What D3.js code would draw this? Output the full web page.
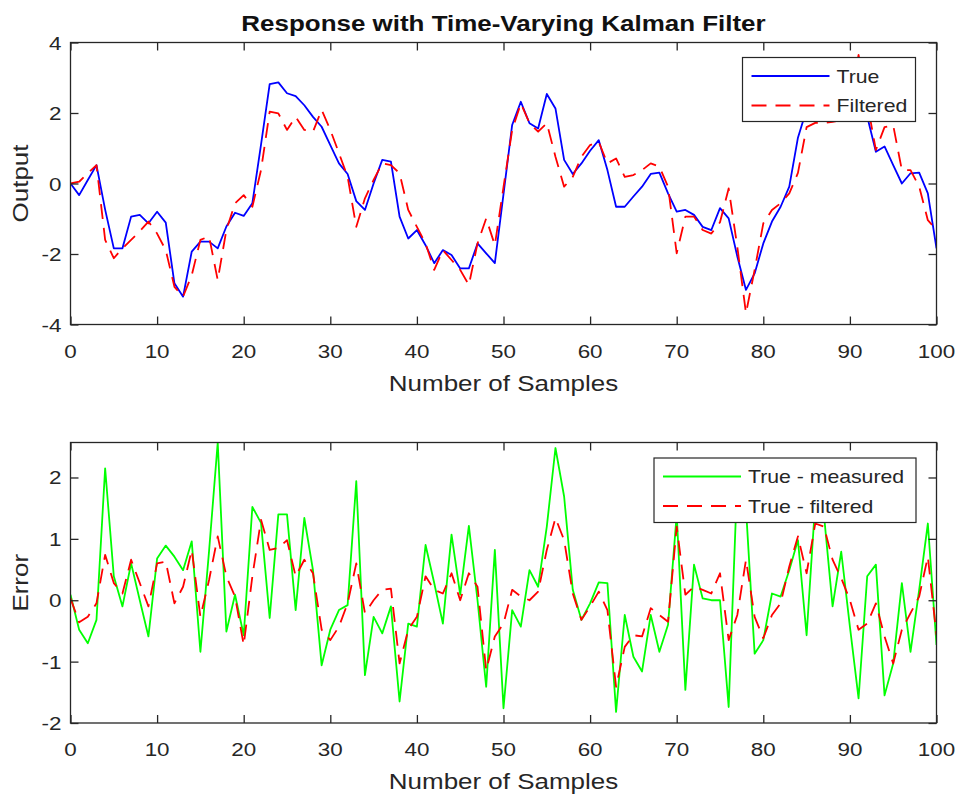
<!DOCTYPE html>
<html>
<head>
<meta charset="utf-8">
<script src="https://cdn.jsdelivr.net/npm/d3@7"></script>
<style>
  html, body { margin: 0; padding: 0; background: #fff; }
  svg { display: block; }
</style>
</head>
<body>
<div id="chart"></div>
<script>
// ---------------- data ----------------
const samples = d3.range(0, 101);

const trueOutput = [
  0.0, -0.33, 0.1, 0.52, -0.74, -1.84, -1.84, -0.94, -0.89, -1.13,
  -0.8, -1.11, -2.83, -3.21, -1.93, -1.65, -1.65, -1.84, -1.22, -0.83,
  -0.92, -0.56, 1.1, 2.82, 2.87, 2.56, 2.48, 2.22, 1.89, 1.61,
  1.09, 0.57, 0.27, -0.5, -0.75, 0.0, 0.67, 0.62, -0.94, -1.56,
  -1.32, -1.75, -2.26, -1.89, -2.03, -2.41, -2.41, -1.7, -1.98, -2.26,
  -0.3, 1.66, 2.32, 1.71, 1.56, 2.54, 2.13, 0.67, 0.27, 0.57,
  0.93, 1.23, 0.38, -0.66, -0.66, -0.37, -0.09, 0.27, 0.31, -0.28,
  -0.8, -0.75, -0.89, -1.23, -1.32, -0.7, -0.99, -2.07, -3.02, -2.55,
  -1.7, -1.08, -0.66, -0.09, 1.3, 2.1, 2.97, 2.92, 2.41, 2.16,
  2.2, 3.17, 1.9, 0.9, 1.05, 0.52, 0.0, 0.29, 0.31, -0.28,
  -1.84
];

const filteredOutput = [
  0.0, 0.05, 0.29, 0.52, -1.6, -2.12, -1.84, -1.6, -1.35, -1.08,
  -1.42, -1.89, -2.93, -3.21, -2.6, -1.6, -1.5, -2.74, -1.32, -0.56,
  -0.33, -0.66, 0.38, 2.04, 1.99, 1.52, 1.89, 1.52, 1.47, 2.09,
  1.52, 0.86, 0.19, -1.23, -0.42, 0.1, 0.57, 0.52, 0.29, -0.75,
  -1.23, -1.7, -2.45, -1.89, -2.17, -2.45, -2.88, -1.7, -0.99, -1.75,
  -0.1, 1.52, 2.27, 1.71, 1.47, 1.71, 0.76, -0.09, 0.19, 0.76,
  1.09, 1.18, 0.57, 0.71, 0.19, 0.24, 0.38, 0.57, 0.48, -0.09,
  -1.98, -0.94, -0.94, -1.32, -1.42, -1.1, -0.14, -1.8, -3.68, -2.45,
  -1.13, -0.75, -0.56, -0.28, 0.3, 1.6, 1.72, 1.72, 1.75, 1.8,
  2.2, 3.65, 2.3, 0.95, 1.6, 1.65, 0.38, 0.38, -0.09, -1.04,
  -1.32
];

const errMeasured = [
  0.09, -0.48, -0.70, -0.32, 2.15, 0.39, -0.10, 0.6, 0.0, -0.59,
  0.68, 0.89, 0.71, 0.49, 0.96, -0.84, 0.8, 2.57, -0.51, 0.09,
  -0.57, 1.52, 1.26, -0.29, 1.40, 1.40, -0.16, 1.34, 0.49, -1.06,
  -0.48, -0.16, -0.08, 1.94, -1.22, -0.27, -0.54, -0.10, -1.65, -0.38,
  -0.43, 0.9, 0.28, -0.38, 1.07, 0.09, 1.21, 0.0, -1.41, 0.82,
  -1.76, -0.16, -0.43, 0.49, 0.22, 1.2, 2.48, 1.69, 0.17, -0.32,
  -0.05, 0.29, 0.28, -1.82, -0.24, -0.92, -1.16, -0.24, -0.84, -0.40,
  1.4, -1.46, 0.58, 0.03, 0.0, 0.0, -1.74, 2.0, 1.5, -0.87,
  -0.65, 0.11, 0.06, 0.49, 0.98, -0.57, 1.6, 1.4, -0.10, 0.79,
  -0.43, -1.60, 0.39, 0.58, -1.55, -1.03, 0.28, -0.84, 0.17, 1.25,
  -0.73
];

const errFiltered = [
  0.03, -0.36, -0.27, -0.05, 0.74, 0.28, 0.11, 0.66, 0.28, -0.10,
  0.6, 0.63, -0.05, 0.22, 0.82, -0.27, 0.33, 1.04, 0.39, 0.06,
  -0.73, 0.39, 1.31, 0.82, 0.85, 0.98, 0.39, 0.66, 0.44, -0.48,
  -0.65, -0.43, -0.05, 0.6, -0.21, 0.0, 0.17, 0.19, -1.03, -0.48,
  -0.27, 0.39, 0.17, 0.11, 0.44, 0.0, 0.44, 0.22, -1.14, -0.59,
  -0.38, 0.17, 0.06, 0.0, 0.14, 0.82, 1.34, 0.98, 0.11, -0.32,
  -0.10, 0.14, -0.16, -1.41, -0.76, -0.57, -0.59, -0.13, -0.24, -0.35,
  1.2, 0.09, 0.22, 0.17, 0.11, 0.44, -0.65, -0.24, 0.66, -0.27,
  -0.62, -0.24, -0.05, 0.55, 1.04, 0.44, 1.25, 1.2, 0.66, 0.36,
  0.0, -0.48, -0.38, -0.05, -0.59, -1.03, -0.48, -0.21, 0.06, 0.71,
  -0.57
];

const xTicks = [0, 10, 20, 30, 40, 50, 60, 70, 80, 90, 100];
const yTicksTop = [-4, -2, 0, 2, 4];
const yTicksBottom = [-2, -1, 0, 1, 2];

const titleText = "Response with Time-Varying Kalman Filter";
const xLabelText = "Number of Samples";
const yLabelTop = "Output";
const yLabelBottom = "Error";
const legendTop = ["True", "Filtered"];
const legendBottom = ["True - measured", "True - filtered"];

// ---------------- layout ----------------
const W = 960, H = 797;
const SX = 1.18;            // glyph widening to match reference rendering
const FONT = "'Liberation Sans', Arial, Helvetica, sans-serif";
const AX = "#262626";

const svg = d3.select("#chart").append("svg")
  .attr("width", W).attr("height", H);

const left = 70.5, right = 936.5;
const x = d3.scaleLinear().domain([0, 100]).range([left, right]);

function stext(parent, px, py, str, o) {
  o = o || {};
  const t = parent.append("text")
    .attr("transform", `translate(${px},${py})${o.rotate ? " rotate(-90)" : ""} scale(${SX},1)`)
    .attr("text-anchor", o.anchor || "start")
    .attr("font-family", FONT)
    .attr("font-size", o.size || 19)
    .attr("font-weight", o.bold ? "bold" : "normal")
    .attr("fill", o.color || AX)
    .text(str);
  return t;
}

function panel(cfg) {
  const y = d3.scaleLinear().domain(cfg.yDomain).range([cfg.bottom, cfg.top]);
  const g = svg.append("g");
  const clipId = "clip" + cfg.id;
  svg.append("clipPath").attr("id", clipId)
    .append("rect").attr("x", left).attr("y", cfg.top)
    .attr("width", right - left).attr("height", cfg.bottom - cfg.top);

  // series
  const line = d3.line().x((d, i) => x(samples[i])).y(d => y(d));
  const dg = g.append("g").attr("clip-path", `url(#${clipId})`);
  cfg.series.forEach(s => {
    dg.append("path").datum(s.values)
      .attr("d", line)
      .attr("fill", "none")
      .attr("stroke", s.color)
      .attr("stroke-width", 1.8)
      .attr("stroke-linejoin", "round")
      .attr("stroke-dasharray", s.dash || null);
  });

  // axes (ticks inside)
  const tl = 8;
  const ax = (axis, tx, ty) => {
    const a = g.append("g").attr("transform", `translate(${tx},${ty})`).call(axis);
    a.select(".domain").remove();
    a.selectAll(".tick line").attr("stroke", AX).attr("stroke-width", 1.3);
    return a;
  };
  const xb = ax(d3.axisBottom(x).tickValues(xTicks).tickSizeInner(-tl).tickSizeOuter(0).tickFormat(d3.format("d")), 0, cfg.bottom);
  xb.selectAll(".tick text").remove();
  ax(d3.axisTop(x).tickValues(xTicks).tickSizeInner(-tl).tickSizeOuter(0).tickFormat(""), 0, cfg.top)
    .selectAll(".tick text").remove();
  const yl = ax(d3.axisLeft(y).tickValues(cfg.yTicks).tickSizeInner(-tl).tickSizeOuter(0), left, 0);
  yl.selectAll(".tick text").remove();
  ax(d3.axisRight(y).tickValues(cfg.yTicks).tickSizeInner(-tl).tickSizeOuter(0).tickFormat(""), right, 0)
    .selectAll(".tick text").remove();

  // tick labels (placed with the scales)
  xTicks.forEach(v => stext(g, x(v), cfg.bottom + 33, String(v), { anchor: "middle", size: 19 }));
  cfg.yTicks.forEach(v => stext(g, left - 9, y(v) + 7, String(v), { anchor: "end", size: 19 }));

  // box
  g.append("rect").attr("x", left).attr("y", cfg.top)
    .attr("width", right - left).attr("height", cfg.bottom - cfg.top)
    .attr("fill", "none").attr("stroke", AX).attr("stroke-width", 1.3);

  // labels
  stext(g, (left + right) / 2, cfg.bottom + 66, xLabelText, { anchor: "middle", size: 22 });
  stext(g, 28, (cfg.top + cfg.bottom) / 2, cfg.yLabel, { anchor: "middle", size: 22, rotate: true });

  // legend
  const L = cfg.legend;
  const lg = g.append("g");
  lg.append("rect").attr("x", L.x).attr("y", L.y).attr("width", L.w).attr("height", L.h)
    .attr("fill", "#fff").attr("stroke", AX).attr("stroke-width", 1.2);
  cfg.series.forEach((s, i) => {
    const ry = L.y + 18.5 + i * 29.5;
    lg.append("line").attr("x1", L.x + 9).attr("x2", L.x + 9 + 78)
      .attr("y1", ry).attr("y2", ry)
      .attr("stroke", s.color).attr("stroke-width", 1.8)
      .attr("stroke-dasharray", s.dash || null);
    stext(lg, L.x + 94, ry + 6.5, L.labels[i], { size: 18 });
  });
}

// title
stext(svg, (left + right) / 2, 31, titleText, { anchor: "middle", size: 22, bold: true, color: "#111" });

panel({
  id: "top", top: 42.5, bottom: 324.5, yDomain: [-4, 4], yTicks: yTicksTop,
  yLabel: yLabelTop,
  series: [
    { values: trueOutput, color: "#0000ff" },
    { values: filteredOutput, color: "#ff0000", dash: "15,9" }
  ],
  legend: { x: 742.5, y: 57.5, w: 173, h: 64, labels: legendTop }
});

panel({
  id: "bot", top: 442.5, bottom: 723, yDomain: [-2, 2.57], yTicks: yTicksBottom,
  yLabel: yLabelBottom,
  series: [
    { values: errMeasured, color: "#00ff00" },
    { values: errFiltered, color: "#ff0000", dash: "15,9" }
  ],
  legend: { x: 654, y: 458, w: 262, h: 64.5, labels: legendBottom }
});
</script>
</body>
</html>
